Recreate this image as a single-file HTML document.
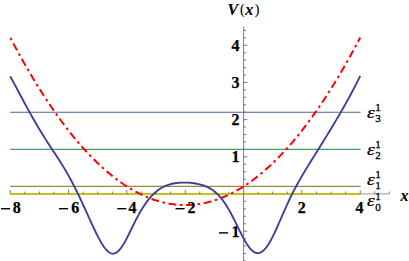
<!DOCTYPE html>
<html><head><meta charset="utf-8"><style>
html,body{margin:0;padding:0;background:#fff;}
svg{display:block;font-family:"Liberation Serif",serif;font-weight:bold;}
text{stroke:#000;stroke-width:0.25px;}
.ti text{stroke-width:0.1px;}
</style></head><body>
<svg width="409" height="261" viewBox="0 0 409 261">
<rect width="409" height="261" fill="#fff"/>
<g fill="none">
<path d="M10.20 193.95 H360.6" stroke="#c2c21a" stroke-width="2.15"/>
<path d="M10.20 186.35 H360.6" stroke="#998b3d" stroke-width="1.15"/>
<path d="M10.20 149.3 H360.6" stroke="#44a05e" stroke-width="1.2"/>
<path d="M10.20 112.3 H360.6" stroke="#4864a2" stroke-width="1.1"/>
</g>
<path d="M10.20 37.45 L11.66 40.23 L13.12 42.99 L14.58 45.73 L16.03 48.44 L17.49 51.13 L18.95 53.79 L20.41 56.44 L21.87 59.06 L23.33 61.65 L24.79 64.22 L26.24 66.77 L27.70 69.30 L29.16 71.80 L30.62 74.28 L32.08 76.74 L33.54 79.17 L34.99 81.58 L36.45 83.97 L37.91 86.33 L39.37 88.67 L40.83 90.99 L42.29 93.28 L43.75 95.55 L45.20 97.80 L46.66 100.02 L48.12 102.22 L49.58 104.40 L51.04 106.55 L52.50 108.68 L53.95 110.79 L55.41 112.87 L56.87 114.93 L58.33 116.97 L59.79 118.98 L61.25 120.97 L62.71 122.94 L64.16 124.88 L65.62 126.80 L67.08 128.70 L68.54 130.58 L70.00 132.43 L71.46 134.25 L72.92 136.06 L74.37 137.84 L75.83 139.60 L77.29 141.33 L78.75 143.04 L80.21 144.73 L81.67 146.39 L83.13 148.04 L84.58 149.65 L86.04 151.25 L87.50 152.82 L88.96 154.37 L90.42 155.89 L91.88 157.40 L93.33 158.87 L94.79 160.33 L96.25 161.76 L97.71 163.17 L99.17 164.55 L100.63 165.92 L102.09 167.25 L103.54 168.57 L105.00 169.86 L106.46 171.13 L107.92 172.38 L109.38 173.60 L110.84 174.80 L112.30 175.97 L113.75 177.13 L115.21 178.25 L116.67 179.36 L118.13 180.44 L119.59 181.50 L121.05 182.54 L122.50 183.55 L123.96 184.54 L125.42 185.51 L126.88 186.45 L128.34 187.37 L129.80 188.27 L131.26 189.14 L132.71 189.99 L134.17 190.82 L135.63 191.62 L137.09 192.40 L138.55 193.16 L140.01 193.89 L141.47 194.60 L142.92 195.29 L144.38 195.95 L145.84 196.59 L147.30 197.21 L148.76 197.80 L150.22 198.37 L151.67 198.92 L153.13 199.44 L154.59 199.94 L156.05 200.42 L157.51 200.87 L158.97 201.30 L160.43 201.71 L161.88 202.09 L163.34 202.46 L164.80 202.79 L166.26 203.11 L167.72 203.40 L169.18 203.67 L170.63 203.91 L172.09 204.13 L173.55 204.33 L175.01 204.50 L176.47 204.66 L177.93 204.78 L179.39 204.89 L180.84 204.97 L182.30 205.03 L183.76 205.06 L185.22 205.08 L186.68 205.06 L188.14 205.03 L189.60 204.97 L191.05 204.89 L192.51 204.78 L193.97 204.66 L195.43 204.50 L196.89 204.33 L198.35 204.13 L199.81 203.91 L201.26 203.67 L202.72 203.40 L204.18 203.11 L205.64 202.79 L207.10 202.46 L208.56 202.09 L210.01 201.71 L211.47 201.30 L212.93 200.87 L214.39 200.42 L215.85 199.94 L217.31 199.44 L218.77 198.92 L220.22 198.37 L221.68 197.80 L223.14 197.21 L224.60 196.59 L226.06 195.95 L227.52 195.29 L228.97 194.60 L230.43 193.89 L231.89 193.16 L233.35 192.40 L234.81 191.62 L236.27 190.82 L237.73 189.99 L239.18 189.14 L240.64 188.27 L242.10 187.37 L243.56 186.45 L245.02 185.51 L246.48 184.54 L247.94 183.55 L249.39 182.54 L250.85 181.50 L252.31 180.44 L253.77 179.36 L255.23 178.25 L256.69 177.13 L258.15 175.97 L259.60 174.80 L261.06 173.60 L262.52 172.38 L263.98 171.13 L265.44 169.86 L266.90 168.57 L268.35 167.25 L269.81 165.92 L271.27 164.55 L272.73 163.17 L274.19 161.76 L275.65 160.33 L277.11 158.87 L278.56 157.39 L280.02 155.89 L281.48 154.37 L282.94 152.82 L284.40 151.25 L285.86 149.65 L287.31 148.04 L288.77 146.39 L290.23 144.73 L291.69 143.04 L293.15 141.33 L294.61 139.60 L296.07 137.84 L297.52 136.06 L298.98 134.25 L300.44 132.43 L301.90 130.58 L303.36 128.70 L304.82 126.80 L306.28 124.88 L307.73 122.94 L309.19 120.97 L310.65 118.98 L312.11 116.97 L313.57 114.93 L315.03 112.87 L316.49 110.79 L317.94 108.68 L319.40 106.55 L320.86 104.40 L322.32 102.22 L323.78 100.02 L325.24 97.79 L326.69 95.55 L328.15 93.28 L329.61 90.99 L331.07 88.67 L332.53 86.33 L333.99 83.97 L335.45 81.58 L336.90 79.17 L338.36 76.74 L339.82 74.28 L341.28 71.80 L342.74 69.30 L344.20 66.77 L345.66 64.22 L347.11 61.65 L348.57 59.05 L350.03 56.44 L351.49 53.79 L352.95 51.13 L354.41 48.44 L355.86 45.73 L357.32 42.99 L358.78 40.23 L360.24 37.45" fill="none" stroke="#ff0000" stroke-width="2" stroke-dasharray="2.6 3.62 7.84 3.62" stroke-dashoffset="-0.45" stroke-linejoin="round"/>
<g stroke="#6e6e6e" stroke-width="0.9" fill="none">
<path d="M360.6 193.9 H389.41" stroke="#8a8a8a"/>
<path d="M243.6 26.5 V261"/>
<path d="M10.20 193.90 v-4.0 M24.79 193.90 v-2.4 M39.37 193.90 v-2.4 M53.95 193.90 v-2.4 M68.54 193.90 v-4.0 M83.13 193.90 v-2.4 M97.71 193.90 v-2.4 M112.30 193.90 v-2.4 M126.88 193.90 v-4.0 M141.47 193.90 v-2.4 M156.05 193.90 v-2.4 M170.63 193.90 v-2.4 M185.22 193.90 v-4.0 M199.81 193.90 v-2.4 M214.39 193.90 v-2.4 M228.97 193.90 v-2.4 M258.15 193.90 v-2.4 M272.73 193.90 v-2.4 M287.31 193.90 v-2.4 M301.90 193.90 v-4.0 M316.49 193.90 v-2.4 M331.07 193.90 v-2.4 M345.66 193.90 v-2.4 M360.24 193.90 v-4.0 M374.82 193.90 v-2.4 M389.41 193.90 v-2.4 "/>
<path d="M243.60 260.92 h2.4 M243.60 253.49 h2.4 M243.60 246.05 h2.4 M243.60 238.62 h2.4 M243.60 231.18 h3.8 M243.60 223.74 h2.4 M243.60 216.31 h2.4 M243.60 208.87 h2.4 M243.60 201.44 h2.4 M243.60 186.56 h2.4 M243.60 179.13 h2.4 M243.60 171.69 h2.4 M243.60 164.26 h2.4 M243.60 156.82 h3.8 M243.60 149.38 h2.4 M243.60 141.95 h2.4 M243.60 134.51 h2.4 M243.60 127.08 h2.4 M243.60 119.64 h3.8 M243.60 112.20 h2.4 M243.60 104.77 h2.4 M243.60 97.33 h2.4 M243.60 89.90 h2.4 M243.60 82.46 h3.8 M243.60 75.02 h2.4 M243.60 67.59 h2.4 M243.60 60.15 h2.4 M243.60 52.72 h2.4 M243.60 45.28 h3.8 M243.60 37.84 h2.4 M243.60 30.41 h2.4 "/>
</g>
<g font-size="16px" fill="#000">
<rect x="1.0" y="208.0" width="9.1" height="1.4"/><text x="12.7" y="212.6">8</text><rect x="59.0" y="208.0" width="9.1" height="1.4"/><text x="71.3" y="212.6">6</text><rect x="117.3" y="208.0" width="9.1" height="1.4"/><text x="128.6" y="212.6">4</text><rect x="175.5" y="208.0" width="9.1" height="1.4"/><text x="187.6" y="212.6">2</text><text x="297.8" y="212.6">2</text><text x="355.6" y="212.6">4</text><text x="239.6" y="50.9" text-anchor="end">4</text><text x="239.6" y="88.1" text-anchor="end">3</text><text x="239.6" y="125.2" text-anchor="end">2</text><text x="239.6" y="162.4" text-anchor="end">1</text><rect x="219" y="232.2" width="9.1" height="1.4"/><text x="239.6" y="236.8" text-anchor="end">1</text>
</g>
<g class="ti" font-size="16px" font-style="italic" fill="#000">
<text x="227.6" y="14.8">V</text>
<text x="239.9" y="14.0" font-size="14px" font-style="normal" font-weight="normal">(</text>
<text x="245.3" y="14.8">x</text>
<text x="254.7" y="14.0" font-size="14px" font-style="normal" font-weight="normal">)</text>
<text x="400.4" y="200.7" style="stroke-width:0.1px">x</text>
</g>
<g fill="#000">
<text x="367.0" y="117.8" font-style="italic" font-weight="normal" font-size="16px" style="stroke-width:0.25px" transform="translate(367.0 0) scale(1.22 1) translate(-367.0 0)">ε</text><text x="375.3" y="121.9" font-size="11px" font-weight="normal" style="stroke-width:0.3px">3</text><text x="375.3" y="110.9" font-size="11px" font-weight="normal" style="stroke-width:0.3px">1</text><text x="367.0" y="154.9" font-style="italic" font-weight="normal" font-size="16px" style="stroke-width:0.25px" transform="translate(367.0 0) scale(1.22 1) translate(-367.0 0)">ε</text><text x="375.3" y="159.0" font-size="11px" font-weight="normal" style="stroke-width:0.3px">2</text><text x="375.3" y="148.0" font-size="11px" font-weight="normal" style="stroke-width:0.3px">1</text><text x="367.0" y="185.0" font-style="italic" font-weight="normal" font-size="16px" style="stroke-width:0.25px" transform="translate(367.0 0) scale(1.22 1) translate(-367.0 0)">ε</text><text x="375.3" y="189.1" font-size="11px" font-weight="normal" style="stroke-width:0.3px">1</text><text x="375.3" y="178.1" font-size="11px" font-weight="normal" style="stroke-width:0.3px">1</text><text x="367.0" y="206.5" font-style="italic" font-weight="normal" font-size="16px" style="stroke-width:0.25px" transform="translate(367.0 0) scale(1.22 1) translate(-367.0 0)">ε</text><text x="375.3" y="210.6" font-size="11px" font-weight="normal" style="stroke-width:0.3px">0</text><text x="375.3" y="199.6" font-size="11px" font-weight="normal" style="stroke-width:0.3px">1</text>
</g>
<path d="M10.20 76.36 L11.66 78.98 L13.12 81.64 L14.58 84.33 L16.03 87.04 L17.49 89.77 L18.95 92.51 L20.41 95.25 L21.87 97.99 L23.33 100.72 L24.79 103.44 L26.24 106.14 L27.70 108.82 L29.16 111.47 L30.62 114.10 L32.08 116.70 L33.54 119.26 L34.99 121.80 L36.45 124.30 L37.91 126.77 L39.37 129.20 L40.83 131.60 L42.29 133.97 L43.75 136.31 L45.20 138.63 L46.66 140.92 L48.12 143.18 L49.58 145.43 L51.04 147.67 L52.50 149.90 L53.95 152.12 L55.41 154.35 L56.87 156.58 L58.33 158.83 L59.79 161.11 L61.25 163.41 L62.71 165.75 L64.16 168.14 L65.62 170.58 L67.08 173.08 L68.54 175.64 L70.00 178.27 L71.46 180.96 L72.92 183.73 L74.37 186.56 L75.83 189.46 L77.29 192.42 L78.75 195.44 L80.21 198.51 L81.67 201.64 L83.13 204.80 L84.58 208.00 L86.04 211.22 L87.50 214.44 L88.96 217.67 L90.42 220.88 L91.88 224.06 L93.33 227.20 L94.79 230.27 L96.25 233.26 L97.71 236.15 L99.17 238.92 L100.63 241.54 L102.09 243.99 L103.54 246.24 L105.00 248.25 L106.46 249.99 L107.92 251.43 L109.38 252.53 L110.84 253.28 L112.30 253.64 L113.75 253.62 L115.21 253.21 L116.67 252.42 L118.13 251.26 L119.59 249.75 L121.05 247.92 L122.50 245.80 L123.96 243.43 L125.42 240.85 L126.88 238.10 L128.34 235.22 L129.80 232.25 L131.26 229.25 L132.71 226.25 L134.17 223.29 L135.63 220.40 L137.09 217.59 L138.55 214.89 L140.01 212.30 L141.47 209.83 L142.92 207.48 L144.38 205.25 L145.84 203.15 L147.30 201.17 L148.76 199.30 L150.22 197.56 L151.67 195.94 L153.13 194.43 L154.59 193.04 L156.05 191.76 L157.51 190.58 L158.97 189.51 L160.43 188.55 L161.88 187.67 L163.34 186.89 L164.80 186.19 L166.26 185.57 L167.72 185.02 L169.18 184.55 L170.63 184.13 L172.09 183.77 L173.55 183.47 L175.01 183.21 L176.47 183.01 L177.93 182.84 L179.39 182.72 L180.84 182.63 L182.30 182.57 L183.76 182.55 L185.22 182.57 L186.68 182.61 L188.14 182.68 L189.60 182.78 L191.05 182.91 L192.51 183.07 L193.97 183.26 L195.43 183.48 L196.89 183.74 L198.35 184.04 L199.81 184.39 L201.26 184.78 L202.72 185.22 L204.18 185.72 L205.64 186.28 L207.10 186.91 L208.56 187.62 L210.01 188.41 L211.47 189.30 L212.93 190.28 L214.39 191.37 L215.85 192.58 L217.31 193.92 L218.77 195.40 L220.22 197.03 L221.68 198.80 L223.14 200.73 L224.60 202.81 L226.06 205.03 L227.52 207.40 L228.97 209.89 L230.43 212.51 L231.89 215.24 L233.35 218.05 L234.81 220.94 L236.27 223.87 L237.73 226.83 L239.18 229.79 L240.64 232.71 L242.10 235.57 L243.56 238.33 L245.02 240.95 L246.48 243.40 L247.94 245.63 L249.39 247.61 L250.85 249.32 L252.31 250.73 L253.77 251.82 L255.23 252.58 L256.69 252.99 L258.15 253.07 L259.60 252.80 L261.06 252.19 L262.52 251.25 L263.98 249.99 L265.44 248.42 L266.90 246.56 L268.35 244.43 L269.81 242.04 L271.27 239.43 L272.73 236.61 L274.19 233.63 L275.65 230.51 L277.11 227.29 L278.56 223.99 L280.02 220.66 L281.48 217.31 L282.94 213.96 L284.40 210.64 L285.86 207.37 L287.31 204.15 L288.77 201.00 L290.23 197.93 L291.69 194.94 L293.15 192.03 L294.61 189.20 L296.07 186.45 L297.52 183.77 L298.98 181.16 L300.44 178.60 L301.90 176.09 L303.36 173.61 L304.82 171.18 L306.28 168.77 L307.73 166.38 L309.19 164.01 L310.65 161.66 L312.11 159.32 L313.57 156.98 L315.03 154.64 L316.49 152.31 L317.94 149.97 L319.40 147.64 L320.86 145.29 L322.32 142.94 L323.78 140.59 L325.24 138.23 L326.69 135.86 L328.15 133.47 L329.61 131.08 L331.07 128.68 L332.53 126.26 L333.99 123.82 L335.45 121.37 L336.90 118.90 L338.36 116.42 L339.82 113.91 L341.28 111.38 L342.74 108.83 L344.20 106.26 L345.66 103.66 L347.11 101.04 L348.57 98.38 L350.03 95.70 L351.49 92.99 L352.95 90.25 L354.41 87.47 L355.86 84.66 L357.32 81.82 L358.78 78.94 L360.24 76.02" fill="none" stroke="#3d3d99" stroke-width="1.85" stroke-linejoin="round"/>
</svg>
</body></html>
